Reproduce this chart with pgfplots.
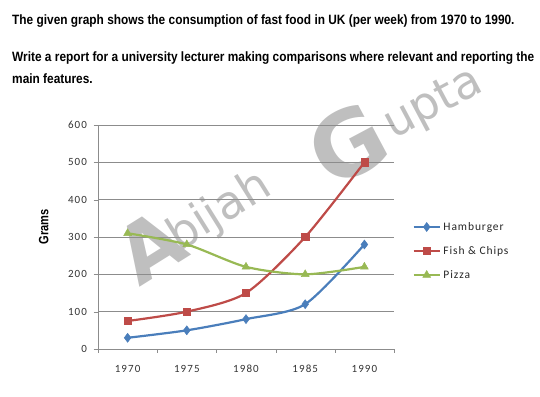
\documentclass[border=0pt]{standalone}
\usepackage{pgfplots}
\pgfplotsset{compat=1.18}
\usepackage{fontspec}
\setmainfont{Carlito}
\newfontfamily\tickfont[LetterSpace=10]{Carlito}
\newfontfamily\legfont[LetterSpace=8]{Carlito}
\newfontfamily\titlefont[FakeStretch=0.88]{Liberation Sans}
\newfontfamily\labfont[FakeStretch=0.82]{Liberation Sans}
\newfontfamily\wmfont{DejaVu Sans}
\definecolor{hamb}{HTML}{4A7EBB}
\definecolor{fish}{HTML}{BE4B48}
\definecolor{pizza}{HTML}{98B954}
\definecolor{gridc}{HTML}{8C8C8C}
\definecolor{wm}{HTML}{BFBFBF}
\begin{document}
\begin{tikzpicture}[x=1pt,y=1pt]
\path[use as bounding box] (0,0) rectangle (540,396);
% titles
\node[anchor=base west, inner sep=0] at (12,371) {\titlefont\bfseries\fontsize{13.5}{16}\selectfont The given graph shows the consumption of fast food in UK (per week) from 1970 to 1990.};
\node[anchor=base west, inner sep=0] at (12,334) {\titlefont\bfseries\fontsize{13.5}{16}\selectfont Write a report for a university lecturer making comparisons where relevant and reporting the};
\node[anchor=base west, inner sep=0] at (12,312) {\titlefont\bfseries\fontsize{13.5}{16}\selectfont main features.};
% watermark
\node[text=wm, rotate=32, inner sep=0] at (150,150) {\wmfont\bfseries\fontsize{80}{80}\selectfont A};
\node[text=wm, rotate=32, inner sep=0] at (220,184) {\wmfont\fontsize{46}{46}\selectfont bijah};
\node[text=wm, rotate=28, inner sep=0] at (348,252) {\wmfont\bfseries\fontsize{90}{90}\selectfont G};
\node[text=wm, rotate=28, inner sep=0] at (434,291) {\wmfont\fontsize{46}{46}\selectfont upta};
\begin{axis}[
  at={(98pt,47pt)}, anchor=south west, scale only axis,
  width=296pt, height=224pt,
  xmin=-0.5, xmax=4.5, ymin=0, ymax=600,
  axis lines=left, axis line style={-, draw=gridc},
  xtick={0,1,2,3,4}, xticklabels={1970,1975,1980,1985,1990},
  minor xtick={-0.5,0.5,1.5,2.5,3.5,4.5},
  major x tick style={draw=none},
  minor x tick style={draw=gridc},
  ytick={0,100,...,600},
  ytick style={draw=gridc},
  tick align=outside, major tick length=4.5pt, minor tick length=4pt,
  ymajorgrids, grid style={draw=gridc, line width=0.5pt},
  /pgf/number format/assume math mode=true,
  ticklabel style={font=\tickfont\fontsize{11}{12}\selectfont, text=black!80},
  yticklabel style={xshift=-3pt},
  xticklabel style={yshift=-8pt},
  ylabel={\labfont\bfseries\fontsize{13.5}{14}\selectfont Grams},
  ylabel style={at={(axis description cs:-0.183,0.545)}, anchor=center},
  every axis plot/.append style={line width=2.2pt, smooth, tension=0.45},
  legend style={at={(axis description cs:1.064,0.4375)}, anchor=west, draw=none, fill=none,
    inner sep=0pt, outer sep=0pt, row sep=12pt,
    nodes={inner sep=0pt, text height=9pt, text depth=3pt, font=\legfont\fontsize{11.5}{12}\selectfont, text=black!85},
    /tikz/every odd column/.append style={column sep=3pt}},
  legend cell align=left,
  legend image code/.code={\draw[mark repeat=2,mark phase=2, line width=1.5pt] plot coordinates {(0pt,0pt) (13pt,0pt) (26pt,0pt)};},
]
\addplot[color=hamb, mark=diamond*, mark size=4.5pt, mark options={solid, line width=0.5pt}] coordinates {(0,30) (1,50) (2,80) (3,120) (4,280)};
\addlegendentry{Hamburger}
\addplot[color=fish, mark=square*, mark size=3.6pt, mark options={solid, line width=0.5pt}] coordinates {(0,75) (1,100) (2,150) (3,300) (4,500)};
\addlegendentry{Fish \& Chips}
\addplot[color=pizza, mark=triangle*, mark size=4.5pt, mark options={solid, line width=0.5pt}] coordinates {(0,310) (1,280) (2,220) (3,200) (4,220)};
\addlegendentry{Pizza}
\end{axis}
\end{tikzpicture}
\end{document}
